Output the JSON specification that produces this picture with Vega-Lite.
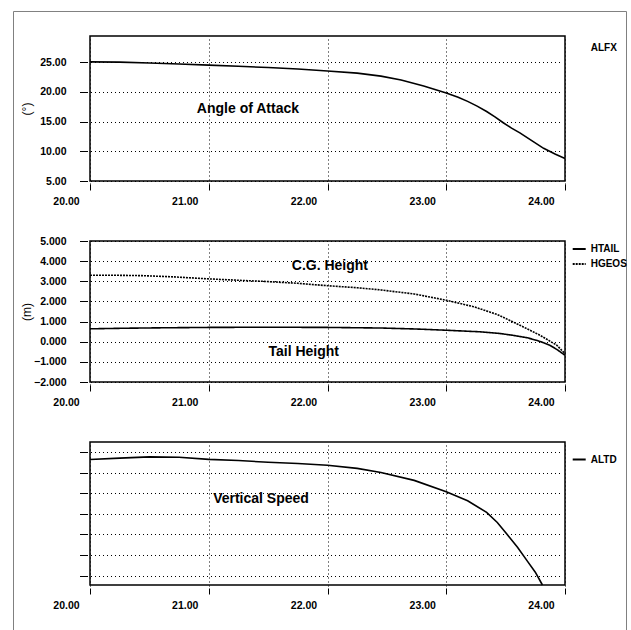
{
  "$schema": "https://vega.github.io/schema/vega-lite/v6.json",
  "padding": {"left": 12, "top": 10, "right": 0, "bottom": 0},
  "background": "white",
  "bounds": "flush",
  "spacing": 60,
  "resolve": {"scale": {"color": "independent", "strokeDash": "independent"}, "legend": {"color": "independent", "strokeDash": "independent"}},
  "config": {
    "font": "Liberation Sans",
    "view": {"stroke": "black", "strokeWidth": 1.5},
    "axis": {"domain": false, "tickCount": 20, "labelFont": "Liberation Sans", "labelFontSize": 10.5, "labelFontWeight": "bold", "labelColor": "black", "tickColor": "black", "tickWidth": 1, "gridColor": "black", "gridDash": [1, 3], "gridWidth": 1, "gridOpacity": 1, "titleColor": "black", "titleFont": "Liberation Sans", "titleFontWeight": "normal", "titleFontSize": 12, "labelOverlap": false},
    "axisX": {"offset": 3, "tickSize": 6, "labelPadding": 6, "labelOffset": -24, "labelFlush": false},
    "axisY": {"offset": 3.5, "tickSize": 7, "labelPadding": 13.5, "titleX": -60.5, "titleBaseline": "middle"},
    "legend": {"labelFont": "Liberation Sans", "labelFontSize": 10, "labelFontWeight": "bold", "labelColor": "black", "labelBaseline": "middle", "labelOffset": 4, "padding": 0, "symbolType": "stroke", "symbolSize": 169, "symbolStrokeWidth": 2, "symbolStrokeColor": "black"}
  },
  "vconcat": [
    {
      "width": 475,
      "height": 145,
      "layer": [
        {
          "data": {"values": [
            {"t": 20.0, "v": 25.05, "series": "ALFX"},
            {"t": 20.25, "v": 25.0, "series": "ALFX"},
            {"t": 20.5, "v": 24.85, "series": "ALFX"},
            {"t": 20.75, "v": 24.68, "series": "ALFX"},
            {"t": 21.0, "v": 24.5, "series": "ALFX"},
            {"t": 21.25, "v": 24.3, "series": "ALFX"},
            {"t": 21.5, "v": 24.1, "series": "ALFX"},
            {"t": 21.75, "v": 23.85, "series": "ALFX"},
            {"t": 22.0, "v": 23.5, "series": "ALFX"},
            {"t": 22.25, "v": 23.15, "series": "ALFX"},
            {"t": 22.45, "v": 22.65, "series": "ALFX"},
            {"t": 22.62, "v": 22.0, "series": "ALFX"},
            {"t": 22.81, "v": 21.0, "series": "ALFX"},
            {"t": 23.0, "v": 19.8, "series": "ALFX"},
            {"t": 23.1, "v": 19.1, "series": "ALFX"},
            {"t": 23.18, "v": 18.4, "series": "ALFX"},
            {"t": 23.26, "v": 17.6, "series": "ALFX"},
            {"t": 23.34, "v": 16.7, "series": "ALFX"},
            {"t": 23.41, "v": 15.8, "series": "ALFX"},
            {"t": 23.48, "v": 14.8, "series": "ALFX"},
            {"t": 23.55, "v": 13.9, "series": "ALFX"},
            {"t": 23.62, "v": 13.1, "series": "ALFX"},
            {"t": 23.72, "v": 11.8, "series": "ALFX"},
            {"t": 23.82, "v": 10.5, "series": "ALFX"},
            {"t": 23.92, "v": 9.5, "series": "ALFX"},
            {"t": 24.0, "v": 8.8, "series": "ALFX"}
          ]},
          "mark": {"type": "line", "strokeWidth": 1.6},
          "encoding": {
            "x": {"field": "t", "type": "quantitative", "scale": {"domain": [20, 24], "nice": false, "zero": false}, "axis": {"values": [20, 21, 22, 23, 24], "format": ".2f", "title": null}},
            "y": {"field": "v", "type": "quantitative", "scale": {"domain": [5, 29.4], "nice": false, "zero": false}, "axis": {"values": [5, 10, 15, 20, 25], "format": ".2f", "title": "(°)"}},
            "color": {"field": "series", "type": "nominal", "scale": {"range": ["black"]}, "legend": {"title": null, "orient": "none", "legendX": 481.7, "legendY": 4.8, "symbolOpacity": 0}}
          }
        },
        {
          "data": {"values": [{}]},
          "mark": {"type": "text", "text": "Angle of Attack", "fontSize": 14, "fontWeight": "bold", "color": "black"},
          "encoding": {"x": {"datum": 21.33, "type": "quantitative", "scale": {"domain": [20, 24], "nice": false, "zero": false}}, "y": {"datum": 17.2, "type": "quantitative", "scale": {"domain": [5, 29.4], "nice": false, "zero": false}}}
        },
        {
          "data": {"values": [{}]},
          "mark": {"type": "rule", "color": "#808080", "strokeWidth": 1},
          "encoding": {"x": {"datum": 19.3558, "type": "quantitative"}, "x2": {"datum": 24.518}, "y": {"datum": 33.523, "type": "quantitative"}}
        },
        {
          "data": {"values": [{}]},
          "mark": {"type": "rule", "color": "#808080", "strokeWidth": 1},
          "encoding": {"x": {"datum": 19.3558, "type": "quantitative"}, "y": {"datum": 33.523, "type": "quantitative"}, "y2": {"datum": -70.64}}
        },
        {
          "data": {"values": [{}]},
          "mark": {"type": "rule", "color": "#808080", "strokeWidth": 1},
          "encoding": {"x": {"datum": 24.518, "type": "quantitative"}, "y": {"datum": 33.523, "type": "quantitative"}, "y2": {"datum": -70.64}}
        }
      ]
    },
    {
      "width": 475,
      "height": 141,
      "layer": [
        {
          "data": {"values": [
            {"t": 20.0, "v": 0.64, "series": "HTAIL"},
            {"t": 20.3, "v": 0.67, "series": "HTAIL"},
            {"t": 20.6, "v": 0.69, "series": "HTAIL"},
            {"t": 21.0, "v": 0.71, "series": "HTAIL"},
            {"t": 21.5, "v": 0.72, "series": "HTAIL"},
            {"t": 22.0, "v": 0.71, "series": "HTAIL"},
            {"t": 22.45, "v": 0.68, "series": "HTAIL"},
            {"t": 22.75, "v": 0.63, "series": "HTAIL"},
            {"t": 23.0, "v": 0.57, "series": "HTAIL"},
            {"t": 23.29, "v": 0.49, "series": "HTAIL"},
            {"t": 23.45, "v": 0.41, "series": "HTAIL"},
            {"t": 23.57, "v": 0.31, "series": "HTAIL"},
            {"t": 23.68, "v": 0.2, "series": "HTAIL"},
            {"t": 23.76, "v": 0.07, "series": "HTAIL"},
            {"t": 23.82, "v": -0.05, "series": "HTAIL"},
            {"t": 23.87, "v": -0.17, "series": "HTAIL"},
            {"t": 23.93, "v": -0.38, "series": "HTAIL"},
            {"t": 24.0, "v": -0.67, "series": "HTAIL"},
            {"t": 20.0, "v": 3.3, "series": "HGEOS"},
            {"t": 20.2, "v": 3.3, "series": "HGEOS"},
            {"t": 20.44, "v": 3.28, "series": "HGEOS"},
            {"t": 20.7, "v": 3.22, "series": "HGEOS"},
            {"t": 21.0, "v": 3.12, "series": "HGEOS"},
            {"t": 21.25, "v": 3.05, "series": "HGEOS"},
            {"t": 21.45, "v": 3.0, "series": "HGEOS"},
            {"t": 21.75, "v": 2.9, "series": "HGEOS"},
            {"t": 22.0, "v": 2.78, "series": "HGEOS"},
            {"t": 22.25, "v": 2.68, "series": "HGEOS"},
            {"t": 22.45, "v": 2.57, "series": "HGEOS"},
            {"t": 22.73, "v": 2.37, "series": "HGEOS"},
            {"t": 23.0, "v": 2.06, "series": "HGEOS"},
            {"t": 23.23, "v": 1.74, "series": "HGEOS"},
            {"t": 23.43, "v": 1.35, "series": "HGEOS"},
            {"t": 23.62, "v": 0.82, "series": "HGEOS"},
            {"t": 23.79, "v": 0.32, "series": "HGEOS"},
            {"t": 23.93, "v": -0.17, "series": "HGEOS"},
            {"t": 24.0, "v": -0.59, "series": "HGEOS"}
          ]},
          "mark": {"type": "line", "strokeWidth": 1.6, "color": "black"},
          "encoding": {
            "x": {"field": "t", "type": "quantitative", "scale": {"domain": [20, 24], "nice": false, "zero": false}, "axis": {"values": [20, 21, 22, 23, 24], "format": ".2f", "title": null}},
            "y": {"field": "v", "type": "quantitative", "scale": {"domain": [-2, 5], "nice": false, "zero": false}, "axis": {"values": [-2, -1, 0, 1, 2, 3, 4, 5], "format": ".3f", "title": "(m)"}},
            "strokeDash": {"field": "series", "type": "nominal", "scale": {"domain": ["HTAIL", "HGEOS"], "range": [[1, 0], [2, 1]]}, "legend": {"title": null, "orient": "none", "legendX": 481.7, "legendY": 0.5, "rowPadding": 2}}
          }
        },
        {
          "data": {"values": [{}]},
          "mark": {"type": "text", "text": "C.G. Height", "fontSize": 14, "fontWeight": "bold", "color": "black"},
          "encoding": {"x": {"datum": 22.02, "type": "quantitative", "scale": {"domain": [20, 24], "nice": false, "zero": false}}, "y": {"datum": 3.74, "type": "quantitative", "scale": {"domain": [-2, 5], "nice": false, "zero": false}}}
        },
        {
          "data": {"values": [{}]},
          "mark": {"type": "text", "text": "Tail Height", "fontSize": 14, "fontWeight": "bold", "color": "black"},
          "encoding": {"x": {"datum": 21.8, "type": "quantitative"}, "y": {"datum": -0.5, "type": "quantitative"}}
        }
      ]
    },
    {
      "width": 475,
      "height": 143,
      "layer": [
        {
          "data": {"values": [
            {"t": 20.0, "v": -0.37, "series": "ALTD"},
            {"t": 20.25, "v": -0.3, "series": "ALTD"},
            {"t": 20.5, "v": -0.24, "series": "ALTD"},
            {"t": 20.75, "v": -0.26, "series": "ALTD"},
            {"t": 21.0, "v": -0.36, "series": "ALTD"},
            {"t": 21.25, "v": -0.42, "series": "ALTD"},
            {"t": 21.5, "v": -0.5, "series": "ALTD"},
            {"t": 21.75, "v": -0.56, "series": "ALTD"},
            {"t": 22.0, "v": -0.65, "series": "ALTD"},
            {"t": 22.25, "v": -0.8, "series": "ALTD"},
            {"t": 22.45, "v": -1.0, "series": "ALTD"},
            {"t": 22.73, "v": -1.38, "series": "ALTD"},
            {"t": 23.0, "v": -1.93, "series": "ALTD"},
            {"t": 23.18, "v": -2.37, "series": "ALTD"},
            {"t": 23.34, "v": -2.93, "series": "ALTD"},
            {"t": 23.43, "v": -3.42, "series": "ALTD"},
            {"t": 23.51, "v": -3.98, "series": "ALTD"},
            {"t": 23.6, "v": -4.62, "series": "ALTD"},
            {"t": 23.68, "v": -5.27, "series": "ALTD"},
            {"t": 23.75, "v": -5.83, "series": "ALTD"},
            {"t": 23.81, "v": -6.45, "series": "ALTD"}
          ]},
          "mark": {"type": "line", "strokeWidth": 1.6},
          "encoding": {
            "x": {"field": "t", "type": "quantitative", "scale": {"domain": [20, 24], "nice": false, "zero": false}, "axis": {"values": [20, 21, 22, 23, 24], "format": ".2f", "title": null}},
            "y": {"field": "v", "type": "quantitative", "scale": {"domain": [-6.45, 0.48], "nice": false, "zero": false}, "axis": {"values": [0, -1, -2, -3, -4, -5, -6], "labels": false, "title": null}},
            "color": {"field": "series", "type": "nominal", "scale": {"range": ["black"]}, "legend": {"title": null, "orient": "none", "legendX": 481.7, "legendY": 10}}
          }
        },
        {
          "data": {"values": [{}]},
          "mark": {"type": "text", "text": "Vertical Speed", "fontSize": 14, "fontWeight": "bold", "color": "black"},
          "encoding": {"x": {"datum": 21.44, "type": "quantitative", "scale": {"domain": [20, 24], "nice": false, "zero": false}}, "y": {"datum": -2.26, "type": "quantitative", "scale": {"domain": [-6.45, 0.48], "nice": false, "zero": false}}}
        }
      ]
    }
  ]
}
